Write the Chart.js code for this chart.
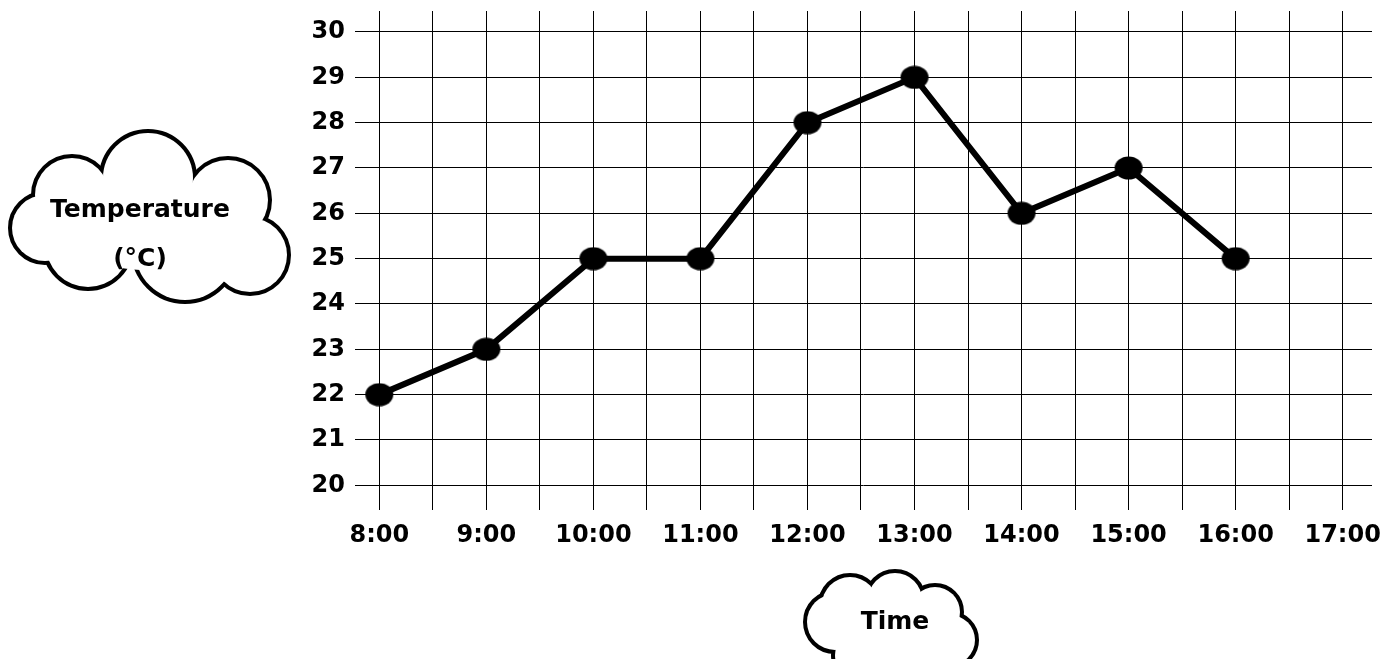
<!DOCTYPE html>
<html>
<head>
<meta charset="utf-8">
<script src="https://cdn.jsdelivr.net/npm/chart.js@4.4.1/dist/chart.umd.min.js"></script>
<style>
  html, body { margin: 0; padding: 0; background: #fff; }
  #wrap { position: relative; width: 1388px; height: 659px; overflow: hidden; }
  .cloud-text {
    position: absolute;
    font-family: 'Comic Sans MS', 'DejaVu Sans', sans-serif;
    font-weight: bold;
    font-size: 25px;
    color: #000;
    text-align: center;
    line-height: 49px;
  }
</style>
</head>
<body>
<div id="wrap">
  <canvas id="tempChart"></canvas>
  <div class="cloud-text" style="left:20px; top:184px; width:240px;">Temperature<br>(°C)</div>
  <div class="cloud-text" style="left:835px; top:596px; width:120px;">Time</div>
</div>
<script>
const hours = [8, 9, 10, 11, 12, 13, 14, 15, 16];
const temps = [22, 23, 25, 25, 28, 29, 26, 27, 25];
const timeLabels = ['8:00', '9:00', '10:00', '11:00', '12:00', '13:00', '14:00', '15:00', '16:00', '17:00'];
const tempTicks = [20, 21, 22, 23, 24, 25, 26, 27, 28, 29, 30];

const FONT = "'Comic Sans MS', 'DejaVu Sans', sans-serif";

// ellipse shaped marker
function makeMarker() {
    const c = document.createElement('canvas');
    c.width = 30;
    c.height = 24;
    const g = c.getContext('2d');
    g.fillStyle = '#000';
    g.beginPath();
    g.ellipse(15, 12, 14, 11.5, 0, 0, Math.PI * 2);
    g.fill();
    return c;
}

// cloud bubbles [cx, cy, r] and a filler ellipse [cx, cy, rx, ry]
const bigCloud = {
    bumps: [
        [45, 228, 33], [72, 195, 37], [148, 178, 45], [228, 200, 40],
        [250, 255, 37], [185, 250, 50], [88, 245, 42]
    ],
    filler: [150, 225, 100, 45]
};
const smallCloud = {
    bumps: [
        [835, 622, 28], [850, 605, 28], [895, 600, 27], [935, 612, 25],
        [950, 640, 25], [860, 655, 25], [905, 660, 25], [935, 658, 22]
    ],
    filler: [892, 630, 50, 25]
};

function drawCloud(ctx, cloud) {
    ctx.save();
    ctx.lineWidth = 8;
    ctx.strokeStyle = '#000';
    cloud.bumps.forEach(([x, y, r]) => {
        ctx.beginPath();
        ctx.arc(x, y, r, 0, Math.PI * 2);
        ctx.stroke();
    });
    ctx.fillStyle = '#fff';
    cloud.bumps.forEach(([x, y, r]) => {
        ctx.beginPath();
        ctx.arc(x, y, r, 0, Math.PI * 2);
        ctx.fill();
    });
    const [fx, fy, rx, ry] = cloud.filler;
    ctx.beginPath();
    ctx.ellipse(fx, fy, rx, ry, 0, 0, Math.PI * 2);
    ctx.fill();
    ctx.restore();
}

const cloudPlugin = {
    id: 'clouds',
    afterDraw(chart) {
        drawCloud(chart.ctx, bigCloud);
        drawCloud(chart.ctx, smallCloud);
    }
};

new Chart(document.getElementById('tempChart'), {
    type: 'line',
    data: {
        datasets: [{
            data: hours.map((h, i) => ({ x: h, y: temps[i] })),
            borderColor: '#000',
            borderWidth: 6,
            tension: 0,
            pointStyle: makeMarker(),
            pointRadius: 12,
            pointHoverRadius: 12
        }]
    },
    options: {
        responsive: true,
        maintainAspectRatio: false,
        animation: false,
        events: [],
        layout: {
            autoPadding: false,
            padding: { left: 300, top: 11, right: 16, bottom: 0 }
        },
        plugins: {
            legend: { display: false },
            tooltip: { enabled: false }
        },
        scales: {
            x: {
                type: 'linear',
                min: 7.773,
                max: 17.274,
                afterFit(scale) {
                    scale.height = 149;
                    scale.paddingLeft = 0;
                    scale.paddingRight = 0;
                },
                border: { display: false },
                grid: { color: '#000', lineWidth: 1, drawTicks: false },
                ticks: {
                    stepSize: 0.5,
                    includeBounds: false,
                    autoSkip: false,
                    maxRotation: 0,
                    padding: 11,
                    color: '#000',
                    font: { family: FONT, size: 24, weight: 'bold' },
                    callback: (v) => Number.isInteger(v) ? timeLabels[v - 8] : ''
                }
            },
            y: {
                min: 19.455,
                max: 30.463,
                afterFit(scale) {
                    scale.width = 55;
                    scale.paddingTop = 0;
                    scale.paddingBottom = 0;
                },
                border: { display: false },
                grid: { color: '#000', lineWidth: 1, drawTicks: false },
                ticks: {
                    stepSize: 1,
                    includeBounds: false,
                    padding: 10,
                    color: '#000',
                    font: { family: FONT, size: 24, weight: 'bold' },
                    callback: (v) => tempTicks.includes(v) ? String(v) : ''
                }
            }
        }
    },
    plugins: [cloudPlugin]
});
</script>
</body>
</html>
